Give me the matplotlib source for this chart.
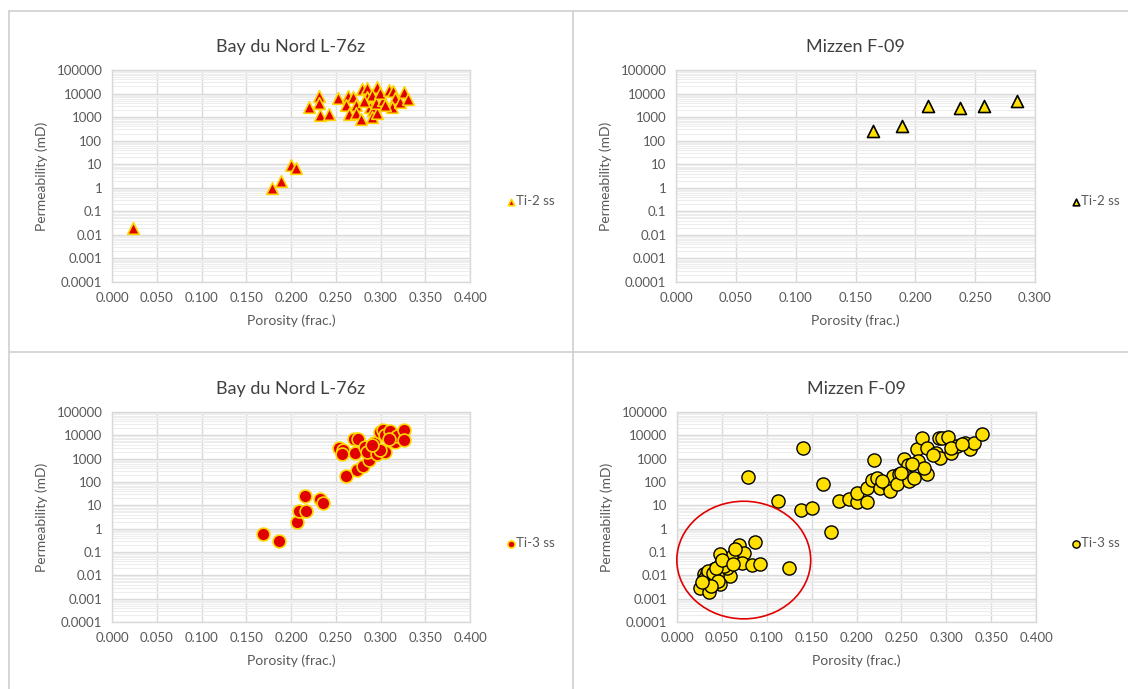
# -*- coding: utf-8 -*-
"""
Porosité / perméabilité - Bay du Nord L-76z et Mizzen F-09 (Ti-2 ss, Ti-3 ss)
Sortie: out.png (1128x689)
"""

import matplotlib
matplotlib.use("Agg")
import matplotlib.pyplot as plt
from matplotlib.patches import Ellipse
from matplotlib.lines import Line2D
from matplotlib.ticker import FixedLocator, LogLocator, NullFormatter

plt.rcParams["font.family"] = ["Lato", "DejaVu Sans"]

# --- données ---
# Bay du Nord L-76z, Ti-2 ss
bdn_ti2_phi = [0.024, 0.179, 0.189, 0.200, 0.206, 0.220, 0.231, 0.231, 0.232, 0.243,
               0.252, 0.264, 0.269, 0.262, 0.273, 0.265, 0.273, 0.278, 0.279, 0.285,
               0.296, 0.285, 0.291, 0.288, 0.292, 0.290, 0.296, 0.295, 0.303, 0.300,
               0.309, 0.314, 0.316, 0.313, 0.322, 0.326, 0.331, 0.282, 0.305]
bdn_ti2_k = [0.019, 1.0, 2.0, 9.0, 7.0, 2600, 8000, 3800, 1200, 1350,
             6300, 8000, 7000, 3200, 3200, 1350, 1550, 800, 15000, 18000,
             19500, 6900, 8700, 2750, 2000, 1050, 1450, 3900, 5300, 10200,
             14000, 13200, 6300, 2750, 4500, 12000, 5700, 4800, 3300]

# Mizzen F-09, Ti-2 ss
miz_ti2_phi = [0.165, 0.189, 0.211, 0.237, 0.257, 0.285]
miz_ti2_k = [260, 430, 2830, 2400, 3000, 4600]

# Bay du Nord L-76z, Ti-3 ss
bdn_ti3_phi = [0.169, 0.187, 0.2065, 0.209, 0.217, 0.216, 0.2326, 0.2355, 0.262, 0.2735,
               0.280, 0.2876, 0.254, 0.2586, 0.257, 0.270, 0.275, 0.271, 0.283, 0.285,
               0.293, 0.296, 0.299, 0.303, 0.305, 0.305, 0.311, 0.316, 0.318, 0.326,
               0.326, 0.310, 0.300, 0.290]
bdn_ti3_k = [0.57, 0.29, 1.9, 5.5, 5.5, 24, 19, 12, 175, 316,
             470, 850, 2950, 2450, 1640, 7200, 7200, 1750, 3160, 1950,
             4700, 1650, 13800, 16300, 10000, 1950, 15400, 5200, 9100, 16300,
             6500, 7000, 2300, 3800]

# Mizzen F-09, Ti-3 ss
miz_ti3_phi = [0.140, 0.079, 0.112, 0.163, 0.138, 0.150, 0.172, 0.181, 0.192, 0.201,
               0.201, 0.212, 0.212, 0.219, 0.217, 0.223, 0.2265, 0.234, 0.237, 0.241,
               0.247, 0.245, 0.253, 0.257, 0.258, 0.264, 0.267, 0.269, 0.273, 0.279,
               0.279, 0.275, 0.289, 0.292, 0.295, 0.302, 0.293, 0.305, 0.312, 0.321,
               0.327, 0.331, 0.340, 0.228, 0.250, 0.262, 0.285, 0.305, 0.318,
               0.069, 0.087, 0.075, 0.060, 0.048, 0.049, 0.072, 0.084, 0.092, 0.125,
               0.059, 0.037, 0.030, 0.026, 0.036, 0.032, 0.043, 0.048, 0.041, 0.033,
               0.056, 0.065, 0.030, 0.039, 0.045, 0.034, 0.040, 0.046, 0.052, 0.038,
               0.028, 0.044, 0.050, 0.062]
miz_ti3_k = [2770, 163, 16, 85, 6.1, 7.4, 0.72, 15.4, 18, 14,
             35, 14, 53, 850, 117, 155, 57, 85, 41, 182,
             230, 79, 930, 535, 110, 144, 2500, 790, 7900, 2950,
             213, 410, 1800, 7900, 7500, 8500, 1030, 1740, 3500, 4900,
             2500, 4900, 11800, 110, 250, 600, 1500, 3000, 4200,
             0.20, 0.28, 0.093, 0.061, 0.080, 0.035, 0.035, 0.028, 0.030, 0.021,
             0.0093, 0.0093, 0.011, 0.0030, 0.0020, 0.0058, 0.008, 0.0043, 0.018, 0.013,
             0.021, 0.13, 0.007, 0.004, 0.010, 0.015, 0.012, 0.006, 0.025, 0.0035,
             0.005, 0.02, 0.045, 0.03]

y_ticks = [0.0001, 0.001, 0.01, 0.1, 1, 10, 100, 1000, 10000, 100000]
y_labels = ["0.0001", "0.001", "0.01", "0.1", "1", "10", "100", "1000", "10000", "100000"]

TXT = "#595959"
GRID = "#d9d9d9"
GRID_MIN = "#ededed"

W, H = 1128, 689


def fx(px):
    return px / W


def fy(py):
    return 1 - py / H


def setup_ax(ax, title, xmax):
    ax.set_yscale("log")
    ax.set_ylim(0.0001, 100000)
    ax.set_xlim(0, xmax)
    ax.yaxis.set_major_locator(FixedLocator(y_ticks))
    ax.set_yticklabels(y_labels)
    ax.yaxis.set_minor_locator(LogLocator(base=10, subs=range(2, 10), numticks=20))
    ax.yaxis.set_minor_formatter(NullFormatter())
    xt = [i * 0.05 for i in range(int(round(xmax / 0.05)) + 1)]
    ax.set_xticks(xt)
    ax.set_xticklabels([f"{v:.3f}" for v in xt])
    ax.grid(True, which="major", color=GRID, lw=1.0, zorder=0)
    ax.grid(True, which="minor", axis="y", color=GRID_MIN, lw=0.8, zorder=0)
    ax.set_axisbelow(True)
    for s in ax.spines.values():
        s.set_color(GRID)
        s.set_linewidth(1.0)
    ax.tick_params(which="both", length=0, colors=TXT, labelsize=9.5, pad=7)
    ax.set_title(title, fontsize=13, color="#404040", pad=13)
    ax.set_xlabel("Porosity (frac.)", fontsize=10, color=TXT, labelpad=8)
    ax.set_ylabel("Permeability (mD)", fontsize=10, color=TXT, labelpad=6)


fig = plt.figure(figsize=(W / 100, H / 100), dpi=100)

# cadres des 4 graphiques
for seg in [((9, 11), (1128, 11)), ((9, 352), (1128, 352)), ((9, 11), (9, 689)),
            ((573, 11), (573, 689))]:
    (x0, y0), (x1, y1) = seg
    fig.add_artist(Line2D([fx(x0), fx(x1)], [fy(y0), fy(y1)], color="#d0d0d0", lw=1.2))

ax_tl = fig.add_axes([fx(112), fy(282), fx(358), 212 / H])
ax_tr = fig.add_axes([fx(676), fy(282), fx(359), 212 / H])
ax_bl = fig.add_axes([fx(112), fy(622), fx(358), 210 / H])
ax_br = fig.add_axes([fx(677), fy(622), fx(359), 210 / H])

setup_ax(ax_tl, "Bay du Nord L-76z", 0.4)
setup_ax(ax_tr, "Mizzen F-09", 0.3)
setup_ax(ax_bl, "Bay du Nord L-76z", 0.4)
setup_ax(ax_br, "Mizzen F-09", 0.4)

ax_tl.scatter(bdn_ti2_phi, bdn_ti2_k, marker="^", s=70, c="#e00000",
              edgecolors="#ffd700", linewidths=1.2, zorder=3, label="Ti-2 ss")
ax_tr.scatter(miz_ti2_phi, miz_ti2_k, marker="^", s=75, c="#ffe000",
              edgecolors="black", linewidths=1.2, zorder=3, label="Ti-2 ss")
ax_bl.scatter(bdn_ti3_phi, bdn_ti3_k, marker="o", s=85, c="#e00000",
              edgecolors="#ffd700", linewidths=1.2, zorder=3, label="Ti-3 ss")
ax_br.scatter(miz_ti3_phi, miz_ti3_k, marker="o", s=90, c="#ffe000",
              edgecolors="black", linewidths=1.0, zorder=3, label="Ti-3 ss")

# ellipse rouge (zone faible porosité)
ax_br.add_patch(Ellipse((0.186, 0.295), 0.373, 0.56, transform=ax_br.transAxes,
                        fill=False, edgecolor="#e00000", lw=1.2, clip_on=False, zorder=4))

# légendes à droite de chaque graphique
for ax, lx, ly in [(ax_tl, 507, 201), (ax_tr, 1072, 201), (ax_bl, 507, 543), (ax_br, 1072, 543)]:
    ax.legend(loc="center left", bbox_to_anchor=(fx(lx), fy(ly)), bbox_transform=fig.transFigure,
              frameon=False, markerscale=0.55, handletextpad=0.1, handlelength=0.6,
              fontsize=9.5, labelcolor=TXT, borderpad=0, borderaxespad=0)

fig.savefig("out.png", dpi=100)
